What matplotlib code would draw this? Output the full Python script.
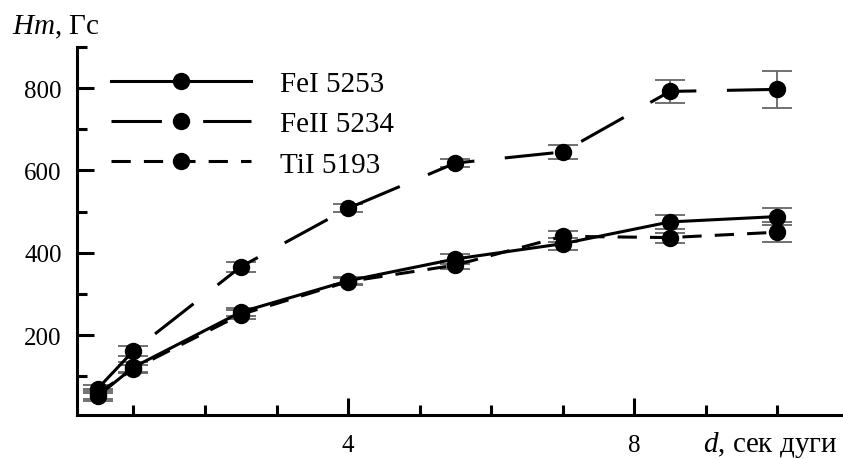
import numpy as np
import matplotlib
matplotlib.use("Agg")
import matplotlib.pyplot as plt
from matplotlib.lines import Line2D
from matplotlib.ticker import MultipleLocator

plt.rcParams['font.family'] = ['Liberation Serif', 'DejaVu Serif']
plt.rcParams['mathtext.fontset'] = 'custom'
plt.rcParams['mathtext.it'] = 'Liberation Serif:italic'
plt.rcParams['mathtext.rm'] = 'Liberation Serif'

# data
d = [0.5, 1.0, 2.5, 4.0, 5.5, 7.0, 8.5, 10.0]
fe1 = [52, 122, 256, 332, 385, 422, 475, 488]
fe1_err = [12, 12, 10, 8, 12, 14, 18, 20]
fe2 = [70, 162, 366, 508, 618, 645, 792, 797]
fe2_err = [10, 12, 12, 10, 10, 18, 28, 45]
ti1 = [58, 118, 250, 330, 370, 440, 437, 450]
ti1_err = [12, 10, 10, 8, 10, 14, 12, 24]
labels = ["FeI 5253", "FeII 5234", "TiI 5193"]


def main():
    fig = plt.figure(figsize=(8.43, 4.60), dpi=100)
    ax = fig.add_axes([0.0913, 0.0957, 0.9087, 0.80])

    # (values, errors, dash pattern in the plot, dash pattern in the legend)
    series = [
        (fe1, fe1_err, None, None),
        (fe2, fe2_err, (16, 10), (16.5, 13.5)),
        (ti1, ti1_err, (6.3, 4.3), (6.3, 4.3)),
    ]
    handles = []
    for (y, err, dash, leg_dash), lab in zip(series, labels):
        ax.errorbar(d, y, yerr=err, fmt="none", ecolor="#666666",
                    elinewidth=1.3, capsize=11, capthick=1.3, zorder=2)
        kw = dict(color="black", lw=2.2, marker="o", ms=11.5,
                  markerfacecolor="black", markeredgecolor="black")
        line_kw = dict(kw)
        leg_kw = dict(kw)
        if dash is None:
            line_kw["linestyle"] = "-"
            leg_kw["linestyle"] = "-"
        else:
            line_kw["dashes"] = dash
            leg_kw["dashes"] = leg_dash
        ax.plot(d, y, zorder=3, **line_kw)
        handles.append(Line2D([], [], label=lab, **leg_kw))

    ax.set_xlim(0.21, 10.92)
    ax.set_ylim(6, 900)

    ax.xaxis.set_minor_locator(MultipleLocator(1))
    ax.yaxis.set_minor_locator(MultipleLocator(100))
    ax.set_xticks([4, 8])
    ax.set_yticks([200, 400, 600, 800])

    ax.tick_params(which="both", direction="in", width=2.2, labelsize=18)
    ax.tick_params(which="major", length=12)
    ax.tick_params(which="minor", length=7)
    ax.tick_params(axis="x", pad=14)
    ax.tick_params(axis="y", pad=11)

    for side in ("top", "right"):
        ax.spines[side].set_visible(False)
    for side in ("left", "bottom"):
        ax.spines[side].set_linewidth(2.2)

    ax.legend(handles=handles, loc="upper left", bbox_to_anchor=(0.044, 0.935),
              frameon=False, fontsize=21, handlelength=4.8, handletextpad=1.0,
              labelspacing=0.47, borderpad=0, borderaxespad=0, numpoints=1)

    fig.text(0.014, 0.941, r"$\mathit{Hm}$, Гс", fontsize=21,
             ha="left", va="center")
    fig.text(0.994, 0.033, r"$d$, сек дуги", fontsize=21,
             ha="right", va="center")

    fig.savefig("out.png", dpi=100)
    plt.close(fig)


if __name__ == "__main__":
    main()
